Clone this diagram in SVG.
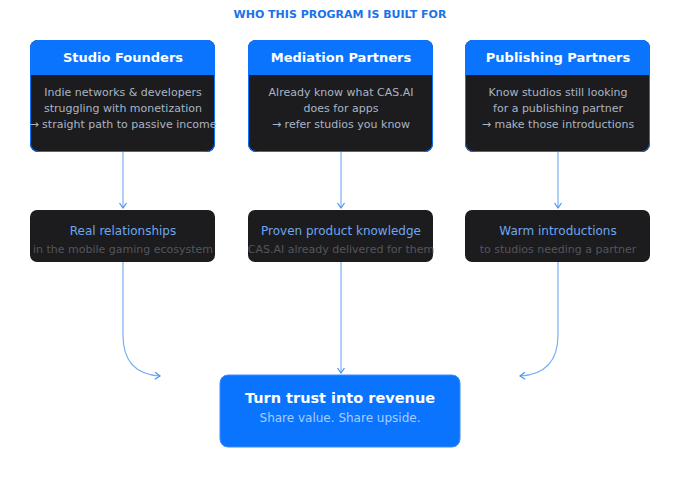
<svg xmlns="http://www.w3.org/2000/svg" width="680" height="480" viewBox="0 0 680 480">
<defs>
<style>
text{font-family:"DejaVu Sans",sans-serif;text-anchor:middle}
.hd{fill:#0a74ff}
.bd{fill:#1c1c1e}
.ht{fill:#fff;font-size:13px;font-weight:bold}
.bt{fill:#a9b4c6;font-size:11px}
.mt{fill:#6ea6f0;font-size:12px}
.ms{fill:#55555a;font-size:11px}
.c{fill:none;stroke:#7ab0f5;stroke-width:1.2}
</style>
<marker id="a" markerWidth="10" markerHeight="10" refX="7" refY="5" orient="auto" markerUnits="userSpaceOnUse">
<path d="M2,1.5 L7,5 L2,8.5" fill="none" stroke="#4a90f0" stroke-width="1.2"/>
</marker>
<clipPath id="k1"><rect x="30" y="40" width="185" height="112" rx="8"/></clipPath>
<clipPath id="k2"><rect x="248" y="40" width="185" height="112" rx="8"/></clipPath>
<clipPath id="k3"><rect x="465" y="40" width="185" height="112" rx="8"/></clipPath>
</defs>
<rect width="680" height="480" fill="#fff"/>
<text x="340" y="18" fill="#1a73e8" font-size="11" font-weight="bold">WHO THIS PROGRAM IS BUILT FOR</text>
<g id="connectors">
<path class="c" d="M123,152 V208" marker-end="url(#a)"/>
<path class="c" d="M341,152 V208" marker-end="url(#a)"/>
<path class="c" d="M558,152 V208" marker-end="url(#a)"/>
<path class="c" d="M123,262 V335 Q123,374 160,376" marker-end="url(#a)"/>
<path class="c" d="M341,262 V373" marker-end="url(#a)"/>
<path class="c" d="M558,262 V335 Q558,374 520,376" marker-end="url(#a)"/>
</g>
<g id="studio-founders">
<g clip-path="url(#k1)"><rect class="bd" x="30" y="40" width="185" height="112"/><rect class="hd" x="30" y="40" width="185" height="35"/></g>
<rect x="30.5" y="40.5" width="184" height="111" rx="8" fill="none" stroke="#0a74ff"/>
<text class="ht" x="123" y="62">Studio Founders</text>
<text class="bt" x="123" y="96">Indie networks &amp; developers</text>
<text class="bt" x="123" y="112">struggling with monetization</text>
<text class="bt" x="123" y="128">→ straight path to passive income</text>
</g>
<g id="mediation-partners">
<g clip-path="url(#k2)"><rect class="bd" x="248" y="40" width="185" height="112"/><rect class="hd" x="248" y="40" width="185" height="35"/></g>
<rect x="248.5" y="40.5" width="184" height="111" rx="8" fill="none" stroke="#0a74ff"/>
<text class="ht" x="341" y="62">Mediation Partners</text>
<text class="bt" x="341" y="96">Already know what CAS.AI</text>
<text class="bt" x="341" y="112">does for apps</text>
<text class="bt" x="341" y="128">→ refer studios you know</text>
</g>
<g id="publishing-partners">
<g clip-path="url(#k3)"><rect class="bd" x="465" y="40" width="185" height="112"/><rect class="hd" x="465" y="40" width="185" height="35"/></g>
<rect x="465.5" y="40.5" width="184" height="111" rx="8" fill="none" stroke="#0a74ff"/>
<text class="ht" x="558" y="62">Publishing Partners</text>
<text class="bt" x="558" y="96">Know studios still looking</text>
<text class="bt" x="558" y="112">for a publishing partner</text>
<text class="bt" x="558" y="128">→ make those introductions</text>
</g>
<g id="real-relationships">
<rect class="bd" x="30" y="210" width="185" height="52" rx="7"/>
<text class="mt" x="123" y="235">Real relationships</text>
<text class="ms" x="123" y="253">in the mobile gaming ecosystem</text>
</g>
<g id="product-knowledge">
<rect class="bd" x="248" y="210" width="185" height="52" rx="7"/>
<text class="mt" x="341" y="235">Proven product knowledge</text>
<text class="ms" x="341" y="253">CAS.AI already delivered for them</text>
</g>
<g id="warm-introductions">
<rect class="bd" x="465" y="210" width="185" height="52" rx="7"/>
<text class="mt" x="558" y="235">Warm introductions</text>
<text class="ms" x="558" y="253">to studios needing a partner</text>
</g>
<g id="revenue">
<rect x="220" y="375" width="240" height="72" rx="8" fill="#0a74ff" stroke="#3b8cff"/>
<text x="340" y="403" fill="#fff" font-size="14.5" font-weight="bold">Turn trust into revenue</text>
<text x="340" y="422" fill="#a8ccff" font-size="12">Share value. Share upside.</text>
</g>
</svg>
